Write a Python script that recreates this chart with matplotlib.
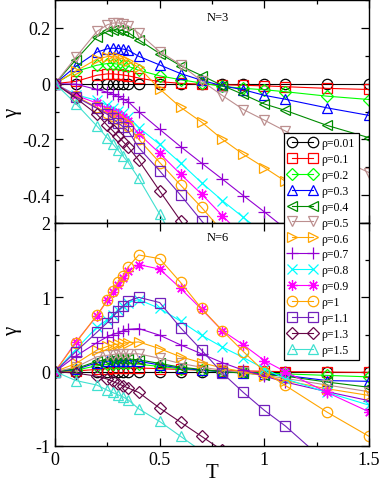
import matplotlib
matplotlib.use("Agg")
import matplotlib.pyplot as plt
from matplotlib.ticker import FixedLocator, FuncFormatter

plt.rcParams['font.family'] = ['Liberation Serif', 'DejaVu Serif']

T = [0, 0.1, 0.2, 0.25, 0.275, 0.3, 0.325, 0.35, 0.4, 0.5, 0.6, 0.7, 0.8, 0.9, 1.0, 1.1, 1.3, 1.5]

rho_labels = ['ρ=0.01', 'ρ=0.1', 'ρ=0.2', 'ρ=0.3', 'ρ=0.4', 'ρ=0.5', 'ρ=0.6',
              'ρ=0.7', 'ρ=0.8', 'ρ=0.9', 'ρ=1', 'ρ=1.1', 'ρ=1.3', 'ρ=1.5']

# N=3 panel
n3_r001 = [0, 0, 0, 0, 0, 0, 0, 0, 0, 0, 0, 0, 0, 0, 0, 0, 0, 0]
n3_r01 = [0, 0.008, 0.03, 0.035, 0.035, 0.033, 0.031, 0.028, 0.02, 0.007, 0.001, -0.002, -0.004, -0.006, -0.008, -0.011, -0.017, -0.021]
n3_r02 = [0, 0.044, 0.066, 0.072, 0.072, 0.07, 0.066, 0.062, 0.048, 0.028, 0.014, 0.002, -0.01, -0.017, -0.022, -0.029, -0.045, -0.057]
n3_r03 = [0, 0.062, 0.113, 0.125, 0.127, 0.126, 0.124, 0.12, 0.098, 0.067, 0.036, 0.012, -0.008, -0.022, -0.042, -0.056, -0.087, -0.114]
n3_r04 = [0, 0.086, 0.168, 0.187, 0.192, 0.193, 0.19, 0.183, 0.157, 0.108, 0.064, 0.029, -0.007, -0.039, -0.073, -0.096, -0.15, -0.194]
n3_r05 = [0, 0.095, 0.187, 0.211, 0.217, 0.218, 0.215, 0.207, 0.181, 0.115, 0.068, 0.01, -0.043, -0.093, -0.131, -0.17, -0.25, -0.319]
n3_r06 = [0, 0.045, 0.088, 0.097, 0.097, 0.094, 0.088, 0.08, 0.058, -0.019, -0.085, -0.138, -0.2, -0.254, -0.301, -0.35, -0.44, -0.53]
n3_r07 = [0, -0.002, -0.021, -0.031, -0.038, -0.046, -0.055, -0.065, -0.101, -0.164, -0.226, -0.285, -0.343, -0.402, -0.46, -0.52, -0.64, -0.76]
n3_r08 = [0, -0.04, -0.06, -0.078, -0.088, -0.097, -0.107, -0.118, -0.158, -0.218, -0.285, -0.355, -0.42, -0.48, -0.54, -0.6, -0.72, -0.84]
n3_r09 = [0, -0.042, -0.07, -0.09, -0.1, -0.11, -0.12, -0.133, -0.18, -0.25, -0.325, -0.396, -0.474, -0.55, -0.62, -0.7, -0.85, -1.0]
n3_r10 = [0, -0.045, -0.085, -0.105, -0.115, -0.127, -0.14, -0.152, -0.2, -0.283, -0.364, -0.444, -0.53, -0.61, -0.69, -0.77, -0.93, -1.1]
n3_r11 = [0, -0.048, -0.088, -0.11, -0.125, -0.14, -0.155, -0.17, -0.23, -0.313, -0.4, -0.492, -0.58, -0.67, -0.76, -0.85, -1.03, -1.2]
n3_r13 = [0, -0.052, -0.11, -0.15, -0.168, -0.188, -0.208, -0.228, -0.275, -0.385, -0.492, -0.6, -0.71, -0.82, -0.93, -1.04, -1.26, -1.5]
n3_r15 = [0, -0.072, -0.152, -0.195, -0.215, -0.238, -0.26, -0.283, -0.34, -0.468, -0.6, -0.73, -0.87, -1.0, -1.14, -1.28, -1.55, -1.8]

# N=6 panel
n6_r001 = [0, 0, 0, 0, 0, 0, 0, 0, 0, 0, 0, 0, 0, 0, 0, 0, 0, 0]
n6_r01 = [0, 0.01, 0.03, 0.04, 0.045, 0.05, 0.05, 0.05, 0.05, 0.04, 0.03, 0.02, 0.015, 0.01, 0.005, 0.0, -0.005, -0.01]
n6_r02 = [0, 0.02, 0.08, 0.1, 0.105, 0.11, 0.11, 0.11, 0.1, 0.07, 0.04, 0.02, 0.0, -0.01, -0.02, -0.03, -0.05, -0.07]
n6_r03 = [0, 0.03, 0.12, 0.14, 0.15, 0.15, 0.15, 0.15, 0.14, 0.09, 0.05, 0.02, 0.0, -0.015, -0.03, -0.05, -0.12, -0.13]
n6_r04 = [0, 0.04, 0.14, 0.16, 0.17, 0.17, 0.17, 0.17, 0.16, 0.11, 0.06, 0.03, 0.0, -0.02, -0.04, -0.06, -0.14, -0.21]
n6_r05 = [0, 0.06, 0.2, 0.22, 0.23, 0.24, 0.24, 0.24, 0.24, 0.18, 0.11, 0.06, 0.02, -0.01, -0.05, -0.09, -0.18, -0.27]
n6_r06 = [0, 0.11, 0.29, 0.34, 0.36, 0.37, 0.38, 0.39, 0.4, 0.31, 0.2, 0.12, 0.05, 0.0, -0.06, -0.12, -0.23, -0.32]
n6_r07 = [0, 0.21, 0.39, 0.47, 0.5, 0.52, 0.55, 0.57, 0.58, 0.49, 0.36, 0.24, 0.12, 0.02, -0.06, -0.14, -0.27, -0.39]
n6_r08 = [0, 0.3, 0.6, 0.7, 0.76, 0.83, 0.88, 0.93, 0.97, 0.85, 0.68, 0.49, 0.33, 0.19, 0.04, -0.095, -0.28, -0.45]
n6_r09 = [0, 0.4, 0.75, 0.96, 1.07, 1.17, 1.26, 1.35, 1.44, 1.38, 1.12, 0.84, 0.55, 0.36, 0.15, 0.0, -0.28, -0.54]
n6_r10 = [0, 0.39, 0.76, 0.96, 1.09, 1.2, 1.29, 1.41, 1.57, 1.52, 1.2, 0.85, 0.55, 0.27, 0.0, -0.185, -0.545, -0.87]
n6_r11 = [0, 0.27, 0.53, 0.66, 0.73, 0.82, 0.88, 0.95, 1.0, 0.93, 0.59, 0.29, -0.02, -0.28, -0.52, -0.73, -1.23, -1.7]
n6_r13 = [0, -0.02, -0.06, -0.1, -0.13, -0.16, -0.19, -0.22, -0.28, -0.49, -0.68, -0.87, -1.06, -1.25, -1.45, -1.65, -2.0, -2.4]
n6_r15 = [0, -0.12, -0.18, -0.25, -0.28, -0.31, -0.34, -0.38, -0.5, -0.67, -0.87, -1.07, -1.27, -1.5, -1.7, -1.9, -2.3, -2.7]

n3_series = [n3_r001, n3_r01, n3_r02, n3_r03, n3_r04, n3_r05, n3_r06,
             n3_r07, n3_r08, n3_r09, n3_r10, n3_r11, n3_r13, n3_r15]
n6_series = [n6_r001, n6_r01, n6_r02, n6_r03, n6_r04, n6_r05, n6_r06,
             n6_r07, n6_r08, n6_r09, n6_r10, n6_r11, n6_r13, n6_r15]

colors = ['#000000', '#ff0000', '#00ff00', '#0000ff', '#008b00', '#bc8f8f', '#ffa500',
          '#9400d3', '#00ffff', '#ff00ff', '#ffa500', '#7221bc', '#670748', '#40e0d0']
markers = ['o', 's', 'D', '^', '<', 'v', '>', '+', 'x', (8, 2, 0), 'o', 's', 'D', '^']
msizes = [7.5, 7, 6, 7.5, 7.5, 7.5, 7.5, 8, 6.5, 7.5, 7.5, 7, 6, 7.5]

fig = plt.figure(figsize=(3.82, 4.85), dpi=100)
L, W = 55 / 382, 314 / 382
ax1 = fig.add_axes([L, 1 - 224 / 485, W, 223 / 485])
ax2 = fig.add_axes([L, 1 - 447 / 485, W, 223 / 485])

handles = []
for ax, series in ((ax1, n3_series), (ax2, n6_series)):
    for i, ys in enumerate(series):
        filled = markers[i] in ('+', 'x') or isinstance(markers[i], tuple)
        h, = ax.plot(T, ys, color=colors[i], lw=0.8, marker=markers[i],
                     markersize=msizes[i], markeredgewidth=0.9,
                     markerfacecolor=colors[i] if filled else 'none',
                     markeredgecolor=colors[i], label=rho_labels[i])
        if ax is ax1:
            handles.append(h)

fmt = FuncFormatter(lambda v, p: f'{v:g}')
for ax in (ax1, ax2):
    ax.set_xlim(0, 1.5)
    ax.xaxis.set_major_locator(FixedLocator([0, 0.5, 1, 1.5]))
    ax.xaxis.set_minor_locator(FixedLocator([0.25, 0.75, 1.25]))
    ax.xaxis.set_major_formatter(fmt)
    ax.yaxis.set_major_formatter(fmt)
    ax.tick_params(which='both', direction='in', top=True, right=True, labelsize=13)
    ax.tick_params(which='major', length=6, width=0.9)
    ax.tick_params(which='minor', length=3, width=0.9)
    for s in ax.spines.values():
        s.set_linewidth(1.0)

ax1.set_ylim(-0.5, 0.3)
ax1.yaxis.set_major_locator(FixedLocator([-0.4, -0.2, 0, 0.2]))
ax1.yaxis.set_minor_locator(FixedLocator([-0.5, -0.3, -0.1, 0.1, 0.3]))
ax1.tick_params(labelbottom=False)
ax1.text(0.52, 0.925, 'N=3', transform=ax1.transAxes, fontsize=9, ha='center', va='center')

ax2.set_ylim(-1, 2)
ax2.yaxis.set_major_locator(FixedLocator([-1, 0, 1, 2]))
ax2.yaxis.set_minor_locator(FixedLocator([-0.5, 0.5, 1.5]))
ax2.text(0.52, 0.935, 'N=6', transform=ax2.transAxes, fontsize=9, ha='center', va='center')

# axis labels
fig.text(13 / 382, 1 - 113 / 485, 'γ', fontsize=15, rotation=90, ha='center', va='center')
fig.text(13 / 382, 1 - 331 / 485, 'γ', fontsize=15, rotation=90, ha='center', va='center')
fig.text(212 / 382, 1 - 474 / 485, 'T', fontsize=15, ha='center', va='center')

leg = fig.legend(handles=handles, loc='upper left', bbox_to_anchor=(284 / 382, 1 - 134 / 485),
                 borderaxespad=0, fontsize=8.5, numpoints=2, handlelength=2.4,
                 labelspacing=0.33, handletextpad=0.4, borderpad=0.35,
                 frameon=True, fancybox=False, edgecolor='black', framealpha=1)
leg.get_frame().set_linewidth(0.9)

fig.savefig('out.png', dpi=100)
